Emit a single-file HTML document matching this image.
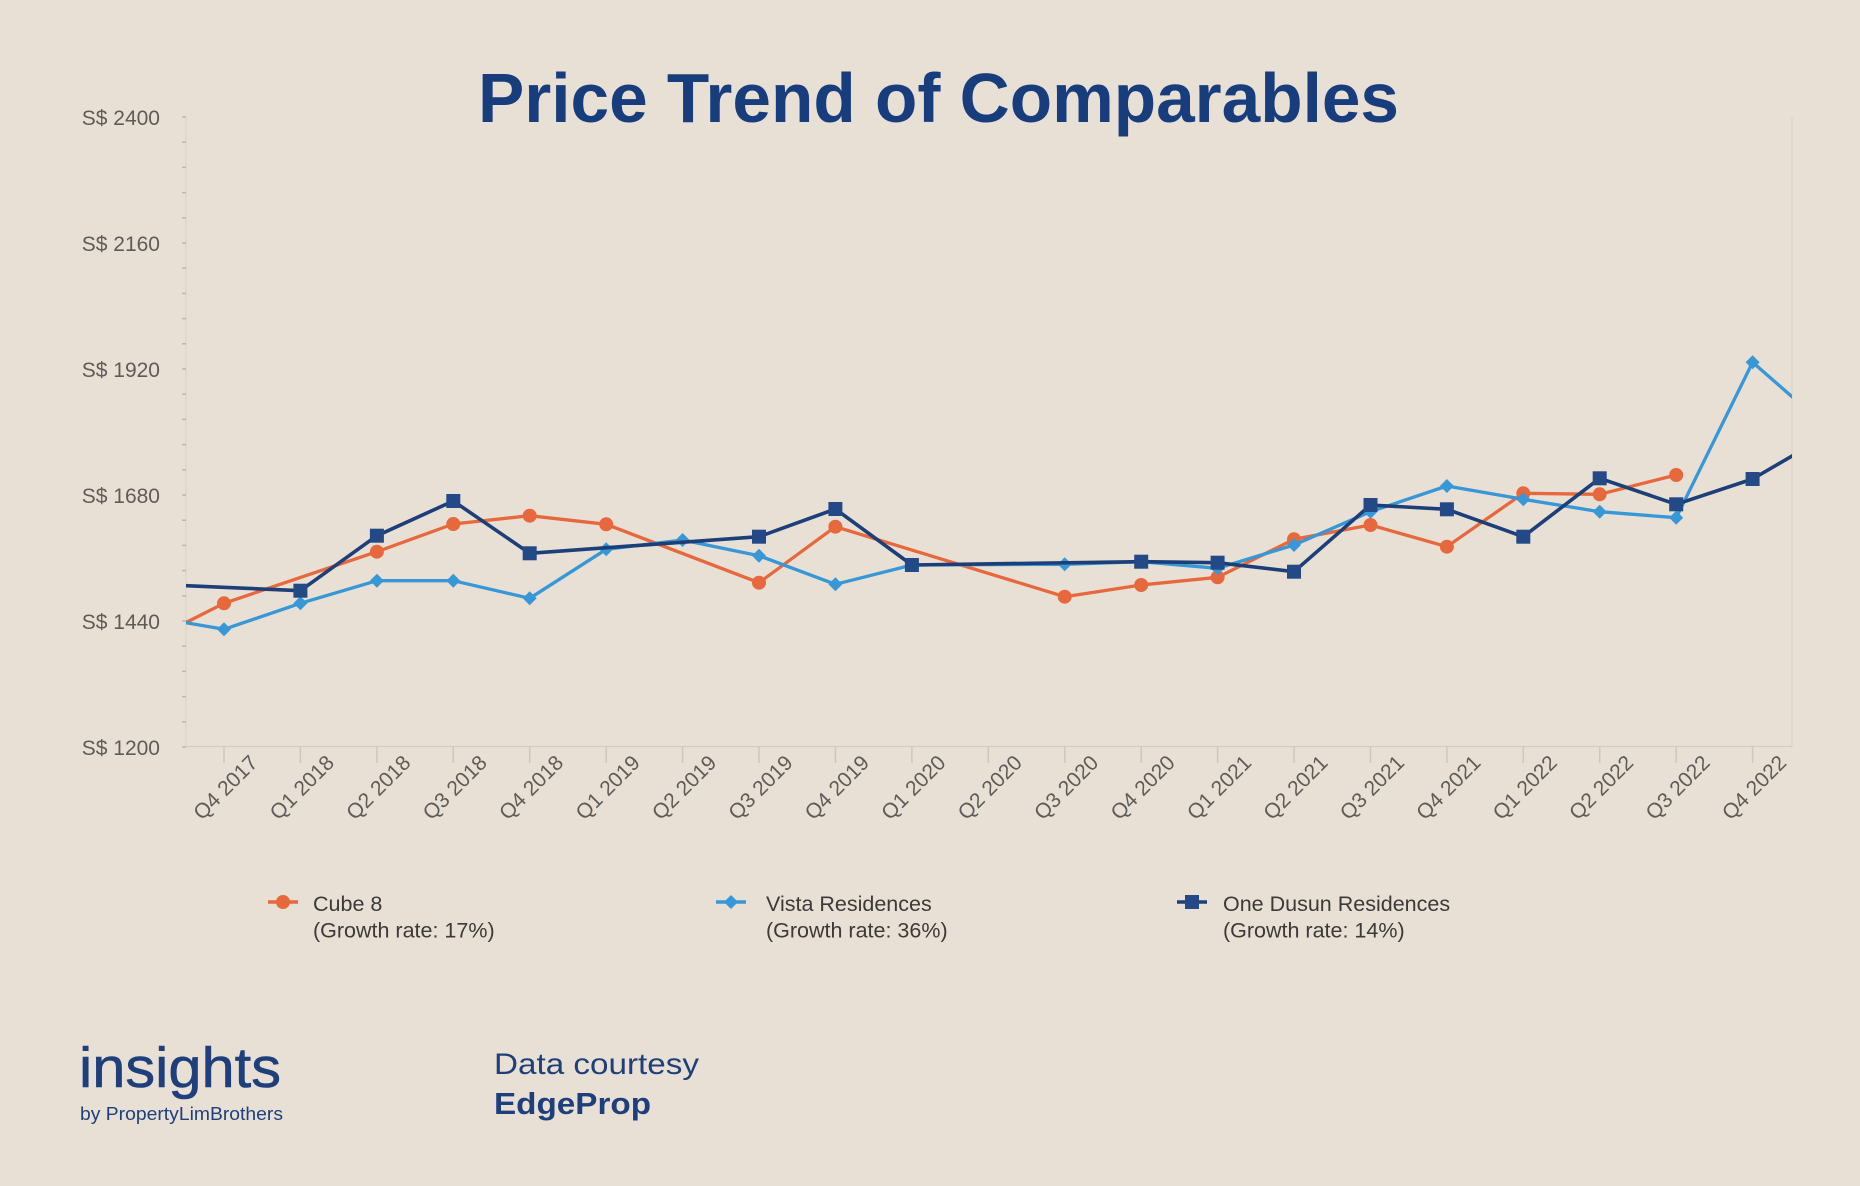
<!DOCTYPE html>
<html>
<head>
<meta charset="utf-8">
<style>
  html,body{margin:0;padding:0;background:#e8e0d5;}
  svg{display:block;}
</style>
</head>
<body>
<svg width="1860" height="1186" viewBox="0 0 1860 1186" xmlns="http://www.w3.org/2000/svg">
  <rect x="0" y="0" width="1860" height="1186" fill="#e8e0d5"/>

  <!-- Title -->
  <text x="478" y="122" font-family="'Liberation Sans', sans-serif" font-weight="bold" font-size="70" fill="#183d7d" textLength="921" lengthAdjust="spacingAndGlyphs">Price Trend of Comparables</text>

  <!-- axes frame -->
  <line x1="186" y1="117" x2="186" y2="747" stroke="#d8d2c8" stroke-width="1"/>
  <line x1="1792" y1="117" x2="1792" y2="747" stroke="#d8d2c8" stroke-width="1.2"/>
  <line x1="186" y1="746.5" x2="1792" y2="746.5" stroke="#d3cdc3" stroke-width="1.2"/>

  <!-- y minor ticks -->
  <g stroke="#bcb6ac" stroke-width="1.5">
    <line x1="182" y1="117" x2="186" y2="117"/>
    <line x1="182" y1="142.2" x2="186" y2="142.2"/>
    <line x1="182" y1="167.4" x2="186" y2="167.4"/>
    <line x1="182" y1="192.6" x2="186" y2="192.6"/>
    <line x1="182" y1="217.8" x2="186" y2="217.8"/>
    <line x1="182" y1="243" x2="186" y2="243"/>
    <line x1="182" y1="268.2" x2="186" y2="268.2"/>
    <line x1="182" y1="293.4" x2="186" y2="293.4"/>
    <line x1="182" y1="318.6" x2="186" y2="318.6"/>
    <line x1="182" y1="343.8" x2="186" y2="343.8"/>
    <line x1="182" y1="369" x2="186" y2="369"/>
    <line x1="182" y1="394.2" x2="186" y2="394.2"/>
    <line x1="182" y1="419.4" x2="186" y2="419.4"/>
    <line x1="182" y1="444.6" x2="186" y2="444.6"/>
    <line x1="182" y1="469.8" x2="186" y2="469.8"/>
    <line x1="182" y1="495" x2="186" y2="495"/>
    <line x1="182" y1="520.2" x2="186" y2="520.2"/>
    <line x1="182" y1="545.4" x2="186" y2="545.4"/>
    <line x1="182" y1="570.6" x2="186" y2="570.6"/>
    <line x1="182" y1="595.8" x2="186" y2="595.8"/>
    <line x1="182" y1="621" x2="186" y2="621"/>
    <line x1="182" y1="646.2" x2="186" y2="646.2"/>
    <line x1="182" y1="671.4" x2="186" y2="671.4"/>
    <line x1="182" y1="696.6" x2="186" y2="696.6"/>
    <line x1="182" y1="721.8" x2="186" y2="721.8"/>
    <line x1="182" y1="747" x2="186" y2="747"/>
  </g>

  <!-- y labels -->
  <g font-family="'Liberation Sans', sans-serif" font-size="21" fill="#5e5c59" text-anchor="end">
    <text x="160" y="125">S$ 2400</text>
    <text x="160" y="251">S$ 2160</text>
    <text x="160" y="377">S$ 1920</text>
    <text x="160" y="503">S$ 1680</text>
    <text x="160" y="629">S$ 1440</text>
    <text x="160" y="755">S$ 1200</text>
  </g>

  <!-- x ticks -->
  <g stroke="#cdc7bd" stroke-width="1.5">
    <line x1="224" y1="747" x2="224" y2="763"/>
    <line x1="300.4" y1="747" x2="300.4" y2="763"/>
    <line x1="376.9" y1="747" x2="376.9" y2="763"/>
    <line x1="453.3" y1="747" x2="453.3" y2="763"/>
    <line x1="529.7" y1="747" x2="529.7" y2="763"/>
    <line x1="606.2" y1="747" x2="606.2" y2="763"/>
    <line x1="682.6" y1="747" x2="682.6" y2="763"/>
    <line x1="759" y1="747" x2="759" y2="763"/>
    <line x1="835.4" y1="747" x2="835.4" y2="763"/>
    <line x1="911.9" y1="747" x2="911.9" y2="763"/>
    <line x1="988.3" y1="747" x2="988.3" y2="763"/>
    <line x1="1064.7" y1="747" x2="1064.7" y2="763"/>
    <line x1="1141.2" y1="747" x2="1141.2" y2="763"/>
    <line x1="1217.6" y1="747" x2="1217.6" y2="763"/>
    <line x1="1294" y1="747" x2="1294" y2="763"/>
    <line x1="1370.5" y1="747" x2="1370.5" y2="763"/>
    <line x1="1446.9" y1="747" x2="1446.9" y2="763"/>
    <line x1="1523.3" y1="747" x2="1523.3" y2="763"/>
    <line x1="1599.7" y1="747" x2="1599.7" y2="763"/>
    <line x1="1676.2" y1="747" x2="1676.2" y2="763"/>
    <line x1="1752.6" y1="747" x2="1752.6" y2="763"/>
  </g>

  <!-- x labels -->
  <g font-family="'Liberation Sans', sans-serif" font-size="21" fill="#5e5c59" text-anchor="end">
    <text transform="translate(259,764) rotate(-45)">Q4 2017</text>
    <text transform="translate(335.4,764) rotate(-45)">Q1 2018</text>
    <text transform="translate(411.9,764) rotate(-45)">Q2 2018</text>
    <text transform="translate(488.3,764) rotate(-45)">Q3 2018</text>
    <text transform="translate(564.7,764) rotate(-45)">Q4 2018</text>
    <text transform="translate(641.2,764) rotate(-45)">Q1 2019</text>
    <text transform="translate(717.6,764) rotate(-45)">Q2 2019</text>
    <text transform="translate(794,764) rotate(-45)">Q3 2019</text>
    <text transform="translate(870.4,764) rotate(-45)">Q4 2019</text>
    <text transform="translate(946.9,764) rotate(-45)">Q1 2020</text>
    <text transform="translate(1023.3,764) rotate(-45)">Q2 2020</text>
    <text transform="translate(1099.7,764) rotate(-45)">Q3 2020</text>
    <text transform="translate(1176.2,764) rotate(-45)">Q4 2020</text>
    <text transform="translate(1252.6,764) rotate(-45)">Q1 2021</text>
    <text transform="translate(1329,764) rotate(-45)">Q2 2021</text>
    <text transform="translate(1405.5,764) rotate(-45)">Q3 2021</text>
    <text transform="translate(1481.9,764) rotate(-45)">Q4 2021</text>
    <text transform="translate(1558.3,764) rotate(-45)">Q1 2022</text>
    <text transform="translate(1634.7,764) rotate(-45)">Q2 2022</text>
    <text transform="translate(1711.2,764) rotate(-45)">Q3 2022</text>
    <text transform="translate(1787.6,764) rotate(-45)">Q4 2022</text>
  </g>

  <defs>
    <clipPath id="plot"><rect x="186" y="100" width="1606" height="660"/></clipPath>
  </defs>

  <g clip-path="url(#plot)">
    <!-- Cube 8 -->
    <path d="M186,622.5 L224,603.3 L376.9,551.7 L453.3,524 L529.7,515.7 L606.2,524.3 L759,582.7 L835.4,526.7 L1064.7,596.7 L1141.2,585 L1217.6,577.3 L1294,539.3 L1370.5,525 L1446.9,546.7 L1523.3,493.3 L1599.7,494.3 L1676.2,475" fill="none" stroke="#e6683c" stroke-width="3.3" stroke-linejoin="round" stroke-linecap="round"/>
    <g fill="#e6683c">
      <circle cx="224" cy="603.3" r="7"/>
      <circle cx="376.9" cy="551.7" r="7"/>
      <circle cx="453.3" cy="524" r="7"/>
      <circle cx="529.7" cy="515.7" r="7"/>
      <circle cx="606.2" cy="524.3" r="7"/>
      <circle cx="759" cy="582.7" r="7"/>
      <circle cx="835.4" cy="526.7" r="7"/>
      <circle cx="1064.7" cy="596.7" r="7"/>
      <circle cx="1141.2" cy="585" r="7"/>
      <circle cx="1217.6" cy="577.3" r="7"/>
      <circle cx="1294" cy="539.3" r="7"/>
      <circle cx="1370.5" cy="525" r="7"/>
      <circle cx="1446.9" cy="546.7" r="7"/>
      <circle cx="1523.3" cy="493.3" r="7"/>
      <circle cx="1599.7" cy="494.3" r="7"/>
      <circle cx="1676.2" cy="475" r="7"/>
    </g>

    <!-- Vista Residences -->
    <path d="M186,622.7 L224,629.3 L300.4,603.3 L376.9,580.7 L453.3,580.7 L529.7,598.3 L606.2,549.3 L682.6,540 L759,555.7 L835.4,584.3 L911.9,565 L1064.7,564.3 L1141.2,561.7 L1217.6,568.3 L1294,545 L1370.5,511.7 L1446.9,486 L1523.3,499.3 L1599.7,511.7 L1676.2,517.7 L1752.6,362.3 L1792,396.7" fill="none" stroke="#3797d7" stroke-width="3.3" stroke-linejoin="round" stroke-linecap="round"/>
    <g fill="#3797d7">
      <path d="M224,622.3 l7,7 l-7,7 l-7,-7z"/>
      <path d="M300.4,596.3 l7,7 l-7,7 l-7,-7z"/>
      <path d="M376.9,573.7 l7,7 l-7,7 l-7,-7z"/>
      <path d="M453.3,573.7 l7,7 l-7,7 l-7,-7z"/>
      <path d="M529.7,591.3 l7,7 l-7,7 l-7,-7z"/>
      <path d="M606.2,542.3 l7,7 l-7,7 l-7,-7z"/>
      <path d="M682.6,533 l7,7 l-7,7 l-7,-7z"/>
      <path d="M759,548.7 l7,7 l-7,7 l-7,-7z"/>
      <path d="M835.4,577.3 l7,7 l-7,7 l-7,-7z"/>
      <path d="M911.9,558 l7,7 l-7,7 l-7,-7z"/>
      <path d="M1064.7,557.3 l7,7 l-7,7 l-7,-7z"/>
      <path d="M1141.2,554.7 l7,7 l-7,7 l-7,-7z"/>
      <path d="M1217.6,561.3 l7,7 l-7,7 l-7,-7z"/>
      <path d="M1294,538 l7,7 l-7,7 l-7,-7z"/>
      <path d="M1370.5,504.7 l7,7 l-7,7 l-7,-7z"/>
      <path d="M1446.9,479 l7,7 l-7,7 l-7,-7z"/>
      <path d="M1523.3,492.3 l7,7 l-7,7 l-7,-7z"/>
      <path d="M1599.7,504.7 l7,7 l-7,7 l-7,-7z"/>
      <path d="M1676.2,510.7 l7,7 l-7,7 l-7,-7z"/>
      <path d="M1752.6,355.3 l7,7 l-7,7 l-7,-7z"/>
    </g>

    <!-- One Dusun Residences -->
    <path d="M186,585.7 L300.4,590.7 L376.9,535.7 L453.3,501 L529.7,553.3 L759,536.7 L835.4,509 L911.9,565 L1141.2,561.7 L1217.6,562.7 L1294,571.7 L1370.5,505 L1446.9,509.3 L1523.3,536.7 L1599.7,478.3 L1676.2,504.3 L1752.6,479 L1792,456" fill="none" stroke="#1d3f78" stroke-width="3.6" stroke-linejoin="round" stroke-linecap="round"/>
    <g fill="#234a87">
      <rect x="293.4" y="583.7" width="14" height="14"/>
      <rect x="369.9" y="528.7" width="14" height="14"/>
      <rect x="446.3" y="494" width="14" height="14"/>
      <rect x="522.7" y="546.3" width="14" height="14"/>
      <rect x="752" y="529.7" width="14" height="14"/>
      <rect x="828.4" y="502" width="14" height="14"/>
      <rect x="904.9" y="558" width="14" height="14"/>
      <rect x="1134.2" y="554.7" width="14" height="14"/>
      <rect x="1210.6" y="555.7" width="14" height="14"/>
      <rect x="1287" y="564.7" width="14" height="14"/>
      <rect x="1363.5" y="498" width="14" height="14"/>
      <rect x="1439.9" y="502.3" width="14" height="14"/>
      <rect x="1516.3" y="529.7" width="14" height="14"/>
      <rect x="1592.7" y="471.3" width="14" height="14"/>
      <rect x="1669.2" y="497.3" width="14" height="14"/>
      <rect x="1745.6" y="472" width="14" height="14"/>
    </g>
  </g>

  <!-- Legend -->
  <g font-family="'Liberation Sans', sans-serif" font-size="21.5" fill="#3b3a38">
    <line x1="268" y1="902" x2="298" y2="902" stroke="#e6683c" stroke-width="3.5"/>
    <circle cx="283" cy="902" r="7" fill="#e6683c"/>
    <text x="313" y="911">Cube 8</text>
    <text x="313" y="937.5">(Growth rate: 17%)</text>

    <line x1="716" y1="902" x2="746" y2="902" stroke="#3797d7" stroke-width="3.5"/>
    <path d="M731,895 l7,7 l-7,7 l-7,-7z" fill="#3797d7"/>
    <text x="766" y="911">Vista Residences</text>
    <text x="766" y="937.5">(Growth rate: 36%)</text>

    <line x1="1177" y1="902" x2="1207" y2="902" stroke="#1d3f78" stroke-width="3.5"/>
    <rect x="1185" y="895" width="14" height="14" fill="#234a87"/>
    <text x="1223" y="911">One Dusun Residences</text>
    <text x="1223" y="937.5">(Growth rate: 14%)</text>
  </g>

  <!-- Footer -->
  <text x="79" y="1087" font-family="'Liberation Sans', sans-serif" font-size="57" fill="#1e3f7b" stroke="#1e3f7b" stroke-width="0.6" textLength="202" lengthAdjust="spacingAndGlyphs">insights</text>
  <text x="80" y="1120" font-family="'Liberation Sans', sans-serif" font-size="18.5" fill="#1e3f7b" textLength="203" lengthAdjust="spacingAndGlyphs">by PropertyLimBrothers</text>

  <text x="494" y="1074" font-family="'Liberation Sans', sans-serif" font-size="30" fill="#1e3f7b" textLength="205" lengthAdjust="spacingAndGlyphs">Data courtesy</text>
  <text x="494" y="1114" font-family="'Liberation Sans', sans-serif" font-weight="bold" font-size="31" fill="#1e3f7b" textLength="157" lengthAdjust="spacingAndGlyphs">EdgeProp</text>
</svg>
</body>
</html>
